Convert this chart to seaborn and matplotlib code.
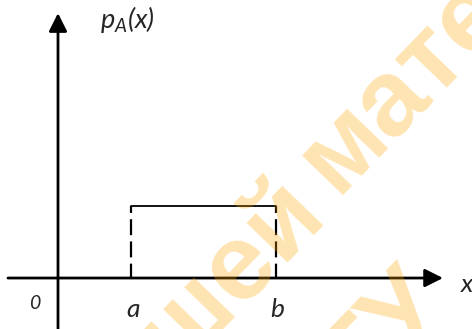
import matplotlib
matplotlib.use("Agg")
import matplotlib.pyplot as plt
import seaborn as sns
import pandas as pd

# Uniform density on [a, b]
a = 1.0
b = 3.0
density = 1.0 / (b - a)

tick_labels = ["0", "a", "b"]
axis_labels = ["x", "p_A(x)"]

sns.set_theme(style="white")
plt.rcParams["lines.scale_dashes"] = False
plt.rcParams["font.family"] = ["Lato", "DejaVu Sans"]
plt.rcParams["mathtext.fontset"] = "custom"
plt.rcParams["mathtext.it"] = "Lato:italic"
plt.rcParams["mathtext.rm"] = "Lato:italic"

fig = plt.figure(figsize=(4.72, 3.29), dpi=100)
ax = fig.add_axes([0, 0, 1, 1])
ax.set_xlim(-0.80, 5.71)
ax.set_ylim(-0.354, 1.931)
ax.axis("off")

# coordinate axes with arrow heads
arrow = dict(arrowstyle="-|>,head_length=1.1,head_width=0.55", lw=2.0,
             color="black", mutation_scale=10, shrinkA=0, shrinkB=0)
ax.annotate("", xy=(5.31, 0), xytext=(-0.69, 0), arrowprops=arrow)
ax.annotate("", xy=(0, 1.84), xytext=(0, -0.40), arrowprops=arrow)

# top of the density
top = pd.DataFrame({"x": [a, b], "y": [density, density]})
sns.lineplot(data=top, x="x", y="y", color="black", lw=1.3, ax=ax)

# dashed edges at a and b
for edge in (a, b):
    side = pd.DataFrame({"x": [edge, edge], "y": [density, 0.0]})
    sns.lineplot(data=side, x="x", y="y", sort=False, estimator=None,
                 color="black", lw=1.6, linestyle=(6.5, (11.5, 4.5)), ax=ax)

# labels
ax.text(-0.317, -0.174, tick_labels[0], fontsize=14, style="italic",
        ha="center", va="center")
ax.text(a + 0.03, -0.271, tick_labels[1], fontsize=19, style="italic",
        ha="center", va="baseline")
ax.text(b + 0.03, -0.271, tick_labels[2], fontsize=19, style="italic",
        ha="center", va="baseline")
ax.text(5.56, -0.097, axis_labels[0], fontsize=19, style="italic",
        ha="left", va="baseline")
ax.text(0.58, 1.74, r"$p_A(x)$", fontsize=19.5, ha="left", va="baseline")

# watermark (positions in figure pixels)
wm = dict(color="orange", alpha=0.3, fontsize=78, fontweight="bold",
          family="Liberation Sans", rotation=46, rotation_mode="anchor",
          va="baseline", transform=None, zorder=10)
ax.text(336, 134, "математики", ha="left", **wm)
ax.text(327, 115, "высшей", ha="right", **wm)
ax.text(449, 24, "БГТУ", ha="right", **wm)

fig.savefig("out.png", dpi=100)
